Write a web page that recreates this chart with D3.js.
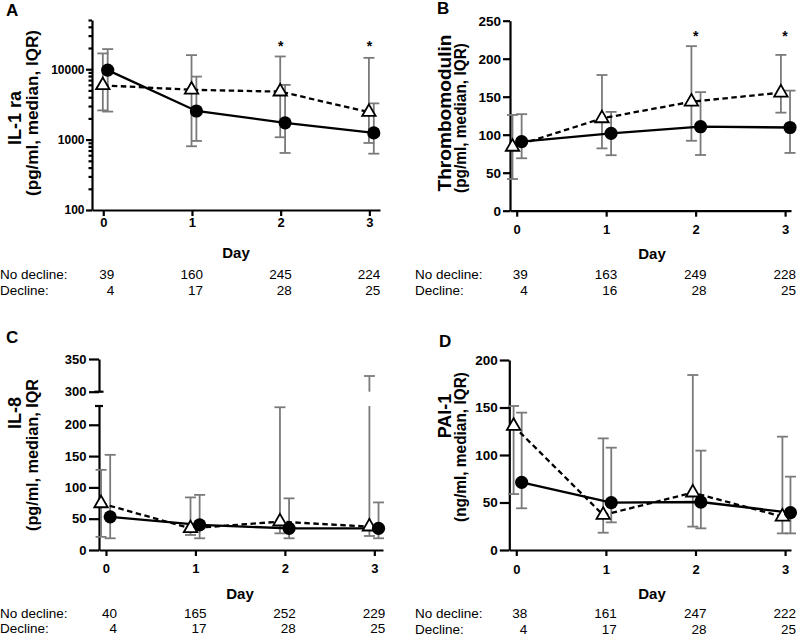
<!DOCTYPE html>
<html><head><meta charset="utf-8">
<script src="https://cdn.jsdelivr.net/npm/d3@7"></script>
<style>
body{margin:0;background:#fff;}
svg{display:block;}
</style></head><body>
<svg id="chart" width="800" height="637"></svg>
<script>
// ---------- DATA ----------
const days = [0, 1, 2, 3];
const dayLabels = ["0", "1", "2", "3"];
const rowLabels = ["No decline:", "Decline:"];

// A: IL-1 ra (log scale)
const il1raNoDecline   = [9700, 2550, 1730, 1245];
const il1raNoDeclineQ1 = [2500, 957, 646, 631];
const il1raNoDeclineQ3 = [19300, 7850, 5980, 3270];
const il1raDecline     = [5900, 5100, 4800, 2460];
const il1raDeclineQ1   = [2600, 804, 1080, 896];
const il1raDeclineQ3   = [16750, 15850, 15170, 14500];
const il1raTicks = [100, 1000, 10000];
const il1raSigDays = [2, 3];
const il1raNNoDecline = [39, 160, 245, 224];
const il1raNDecline   = [4, 17, 28, 25];

// B: Thrombomodulin
const tmNoDecline   = [90.8, 101.8, 110.5, 109.5];
const tmNoDeclineQ1 = [69, 73, 73.3, 76];
const tmNoDeclineQ3 = [127, 130, 156, 158];
const tmDecline     = [84, 121.5, 143.4, 155.3];
const tmDeclineQ1   = [41.7, 82, 92, 129];
const tmDeclineQ3   = [126, 178.5, 216.5, 205];
const tmTicks = [0, 50, 100, 150, 200, 250];
const tmSigDays = [2, 3];
const tmNNoDecline = [39, 163, 249, 228];
const tmNDecline   = [4, 16, 28, 25];

// C: IL-8 (broken axis)
const il8NoDecline   = [53, 40, 34.6, 34.6];
const il8NoDeclineQ1 = [18.7, 18.7, 18.7, 18.7];
const il8NoDeclineQ3 = [152, 88, 82.5, 76];
const il8Decline     = [74.5, 34.6, 45.3, 37.3];
const il8DeclineQ1   = [21, 24, 26.6, 22.4];
const il8DeclineQ3   = [128, 84, 228, 324];
const il8TicksLower = [0, 50, 100, 150, 200];
const il8TicksUpper = [300, 350];
const il8NNoDecline = [40, 165, 252, 229];
const il8NDecline   = [4, 17, 28, 25];

// D: PAI-1
const paiNoDecline   = [71.2, 49.8, 50.5, 39.3];
const paiNoDeclineQ1 = [43.9, 29.1, 22.8, 17.5];
const paiNoDeclineQ3 = [144.6, 107.7, 104.6, 77.2];
const paiDecline     = [130.5, 36.8, 60.4, 35.1];
const paiDeclineQ1   = [58.9, 18.2, 24.6, 17.5];
const paiDeclineQ3   = [151.6, 117.5, 184.2, 119.3];
const paiTicks = [0, 50, 100, 150, 200];
const paiNNoDecline = [38, 161, 247, 222];
const paiNDecline   = [4, 17, 28, 25];

// ---------- DRAW ----------
const FONT = "'Liberation Sans', Arial, Helvetica, sans-serif";
const svg = d3.select("#chart").style("font-family", FONT);
const BAR = "#7a7a7a";
const AXW = 2.2;

function styleAxis(sel, fs) {
  sel.attr("font-family", null).attr("font-size", null);
  sel.select(".domain").attr("stroke", "#000").attr("stroke-width", AXW);
  sel.selectAll(".tick line").attr("stroke", "#000").attr("stroke-width", AXW);
  sel.selectAll(".tick text").attr("fill", "#000")
    .style("font-size", fs + "px").style("font-weight", "bold").style("font-family", FONT);
}

function drawPanel(c) {
  const g = svg.append("g");
  const x = d3.scaleLinear().domain(c.xDomain).range([c.x0, c.x1]);
  const y = c.y;

  c.drawYAxis(g, x);

  g.append("g").attr("transform", `translate(0,${c.yBot})`)
    .call(d3.axisBottom(x).tickValues(days).tickFormat((d, i) => dayLabels[i])
      .tickSize(6).tickPadding(c.xPad).tickSizeOuter(0))
    .call(s => styleAxis(s, 13));

  const series = [
    {v: c.dec, q1: c.decQ1, q3: c.decQ3, off: c.triOff, shape: "tri"},
    {v: c.nod, q1: c.nodQ1, q3: c.nodQ3, off: c.circOff, shape: "circ"}
  ];

  series.forEach(s => {
    days.forEach((d, i) => c.errorBar(g, x(d + s.off), s.q1[i], s.q3[i]));
  });

  series.forEach(s => {
    const line = d3.line().x(d => x(d + s.off)).y((d, i) => y(s.v[i]));
    g.append("path").datum(days).attr("d", line)
      .attr("fill", "none").attr("stroke", "#000").attr("stroke-width", 2.3)
      .attr("stroke-dasharray", s.shape === "tri" ? "5.5,3.5" : null);
  });

  const tri = d3.symbol().type(d3.symbolTriangle).size(78);
  series.forEach(s => {
    days.forEach((d, i) => {
      const xx = x(d + s.off), yy = y(s.v[i]);
      if (s.shape === "tri") {
        g.append("path").attr("d", tri()).attr("transform", `translate(${xx},${yy})`)
          .attr("fill", "#fff").attr("stroke", "#000").attr("stroke-width", 1.8);
      } else {
        g.append("circle").attr("cx", xx).attr("cy", yy).attr("r", 6.6).attr("fill", "#000");
      }
    });
  });

  (c.sig || []).forEach(d => {
    g.append("text").attr("x", x(d)).attr("y", c.sigY + 8)
      .attr("text-anchor", "middle").style("font-size", "14px").style("font-weight", "bold")
      .text("*");
  });

  g.append("text").attr("x", c.dayX).attr("y", c.dayY).attr("text-anchor", "middle")
    .style("font-size", "15px").style("font-weight", "bold").text("Day");

  const t1 = g.append("text").attr("transform", `translate(${c.t1x},${c.t1y}) rotate(-90)`)
    .attr("text-anchor", "middle").style("font-size", "18px").style("font-weight", "bold")
    .text(c.title1);
  if (c.t1len) t1.attr("textLength", c.t1len).attr("lengthAdjust", "spacingAndGlyphs");
  g.append("text").attr("transform", `translate(${c.t2x},${c.t2y}) rotate(-90)`)
    .attr("text-anchor", "middle").style("font-size", "16px").style("font-weight", "bold")
    .attr("textLength", c.t2len).attr("lengthAdjust", "spacingAndGlyphs")
    .text(c.title2);

  g.append("text").attr("x", c.letterX).attr("y", c.letterY)
    .style("font-size", "17px").style("font-weight", "bold").text(c.letter);

  const counts = [c.nNod, c.nDec];
  rowLabels.forEach((lab, r) => {
    const yy = c.rowY + r * 15.8;
    g.append("text").attr("x", c.rowX).attr("y", yy).style("font-size", "13.5px").text(lab);
    days.forEach((d, i) => {
      g.append("text").attr("x", x(d) + 11).attr("y", yy).attr("text-anchor", "end")
        .style("font-size", "13.5px").text(counts[r][i]);
    });
  });
}

function simpleErrorBar(y) {
  return (g, xx, lo, hi) => {
    const w = 5.5;
    g.append("line").attr("x1", xx).attr("x2", xx).attr("y1", y(lo)).attr("y2", y(hi))
      .attr("stroke", BAR).attr("stroke-width", 1.8);
    [lo, hi].forEach(v => g.append("line").attr("x1", xx - w).attr("x2", xx + w)
      .attr("y1", y(v)).attr("y2", y(v)).attr("stroke", BAR).attr("stroke-width", 1.8));
  };
}

function linearYAxis(y, ticks, x0, tickLen, fs) {
  return (g) => {
    g.append("g").attr("transform", `translate(${x0},0)`)
      .call(d3.axisLeft(y).tickValues(ticks).tickSize(tickLen).tickPadding(2).tickSizeOuter(0))
      .call(s => styleAxis(s, fs));
  };
}

// ----- Panel A -----
const yA = d3.scaleLog().domain([100, 50000]).range([210, 20]);
drawPanel({
  letter: "A", letterX: 6, letterY: 16,
  x0: 92, x1: 380, xDomain: [-0.127, 3.12], yBot: 210, xPad: 1.5,
  y: yA,
  drawYAxis: (g) => {
    g.append("g").attr("transform", "translate(92,0)")
      .call(d3.axisLeft(yA).tickValues(il1raTicks).tickFormat(d3.format("d"))
        .tickSize(6).tickPadding(1.5).tickSizeOuter(0))
      .call(s => styleAxis(s, 12));
    const minor = yA.ticks().filter(t => !il1raTicks.includes(t));
    g.append("g").attr("transform", "translate(92,0)")
      .call(d3.axisLeft(yA).tickValues(minor).tickFormat("").tickSize(3.5).tickSizeOuter(0))
      .call(s => { styleAxis(s, 12); s.select(".domain").remove(); });
  },
  errorBar: simpleErrorBar(yA),
  nod: il1raNoDecline, nodQ1: il1raNoDeclineQ1, nodQ3: il1raNoDeclineQ3,
  dec: il1raDecline, decQ1: il1raDeclineQ1, decQ3: il1raDeclineQ3,
  triOff: -0.005, circOff: 0.05,
  sig: il1raSigDays, sigY: 42.7,
  dayX: 236, dayY: 257.5,
  title1: "IL-1 ra", t1x: 20.5, t1y: 118,
  title2: "(pg/ml, median, IQR)", t2x: 37.5, t2y: 113, t2len: 166,
  nNod: il1raNNoDecline, nDec: il1raNDecline, rowX: 0, rowY: 279
});

// ----- Panel B -----
const yB = d3.scaleLinear().domain([0, 250]).range([210.7, 20.7]);
drawPanel({
  letter: "B", letterX: 437, letterY: 14,
  x0: 510, x1: 791, xDomain: [-0.075, 3.066], yBot: 210.7, xPad: 8,
  y: yB,
  drawYAxis: linearYAxis(yB, tmTicks, 510, 7, 13.5),
  errorBar: simpleErrorBar(yB),
  nod: tmNoDecline, nodQ1: tmNoDeclineQ1, nodQ3: tmNoDeclineQ3,
  dec: tmDecline, decQ1: tmDeclineQ1, decQ3: tmDeclineQ3,
  triOff: -0.047, circOff: 0.055,
  sig: tmSigDays, sigY: 33.3,
  dayX: 652, dayY: 259,
  title1: "Thrombomodulin", t1x: 450.5, t1y: 113, t1len: 157,
  title2: "(pg/ml, median, IQR)", t2x: 465.5, t2y: 118, t2len: 150,
  nNod: tmNNoDecline, nDec: tmNDecline, rowX: 415, rowY: 279
});

// ----- Panel C (broken axis) -----
const yCLow = d3.scaleLinear().domain([0, 230]).range([550, 406]);
const yCUp = d3.scaleLinear().domain([300, 350]).range([391.7, 359]);
const yC = v => (v <= 230 ? yCLow(v) : yCUp(v));
drawPanel({
  letter: "C", letterX: 6, letterY: 343,
  x0: 99, x1: 383, xDomain: [-0.078, 3.097], yBot: 550, xPad: 7.5,
  y: yC,
  drawYAxis: (g) => {
    g.append("g").attr("transform", "translate(99,0)")
      .call(d3.axisLeft(yCLow).tickValues(il8TicksLower).tickSize(10).tickPadding(2.5).tickSizeOuter(0))
      .call(s => styleAxis(s, 13));
    g.append("g").attr("transform", "translate(99,0)")
      .call(d3.axisLeft(yCUp).tickValues(il8TicksUpper).tickSize(10).tickPadding(2.5).tickSizeOuter(0))
      .call(s => styleAxis(s, 13));
    [[yCLow.range()[1], 4], [yCUp.range()[0], 4.5]].forEach(([yy, w]) => {
      g.append("line").attr("x1", 99 - w).attr("x2", 99 + w).attr("y1", yy).attr("y2", yy)
        .attr("stroke", "#000").attr("stroke-width", AXW);
    });
  },
  errorBar: (g, xx, lo, hi) => {
    const w = 5.5;
    const seg = (a, b) => g.append("line").attr("x1", xx).attr("x2", xx).attr("y1", a).attr("y2", b)
      .attr("stroke", BAR).attr("stroke-width", 1.8);
    const cap = (yy) => g.append("line").attr("x1", xx - w).attr("x2", xx + w).attr("y1", yy).attr("y2", yy)
      .attr("stroke", BAR).attr("stroke-width", 1.8);
    if (hi <= 230) {
      seg(yC(lo), yC(hi)); cap(yC(hi));
    } else {
      seg(yC(lo), yCLow.range()[1]);
      seg(yCUp(300), yCUp(hi)); cap(yCUp(hi));
    }
    cap(yC(lo));
  },
  nod: il8NoDecline, nodQ1: il8NoDeclineQ1, nodQ3: il8NoDeclineQ3,
  dec: il8Decline, decQ1: il8DeclineQ1, decQ3: il8DeclineQ3,
  triOff: -0.055, circOff: 0.047,
  sig: [], sigY: 0,
  dayX: 240, dayY: 599,
  title1: "IL-8", t1x: 20.5, t1y: 413,
  title2: "(pg/ml, median, IQR", t2x: 37.5, t2y: 455, t2len: 152,
  nNod: il8NNoDecline, nDec: il8NDecline, rowX: 0, rowY: 617.6
});

// ----- Panel D -----
const yD = d3.scaleLinear().domain([0, 200]).range([550, 360]);
drawPanel({
  letter: "D", letterX: 439, letterY: 347,
  x0: 509.3, x1: 791, xDomain: [-0.078, 3.066], yBot: 550, xPad: 9,
  y: yD,
  drawYAxis: linearYAxis(yD, paiTicks, 509.3, 9.5, 13.5),
  errorBar: simpleErrorBar(yD),
  nod: paiNoDecline, nodQ1: paiNoDeclineQ1, nodQ3: paiNoDeclineQ3,
  dec: paiDecline, decQ1: paiDeclineQ1, decQ3: paiDeclineQ3,
  triOff: -0.03, circOff: 0.06,
  sig: [], sigY: 0,
  dayX: 652, dayY: 599,
  title1: "PAI-1", t1x: 450.5, t1y: 416,
  title2: "(ng/ml, median, IQR)", t2x: 465.5, t2y: 447, t2len: 150,
  nNod: paiNNoDecline, nDec: paiNDecline, rowX: 415, rowY: 618
});
</script>
</body></html>
